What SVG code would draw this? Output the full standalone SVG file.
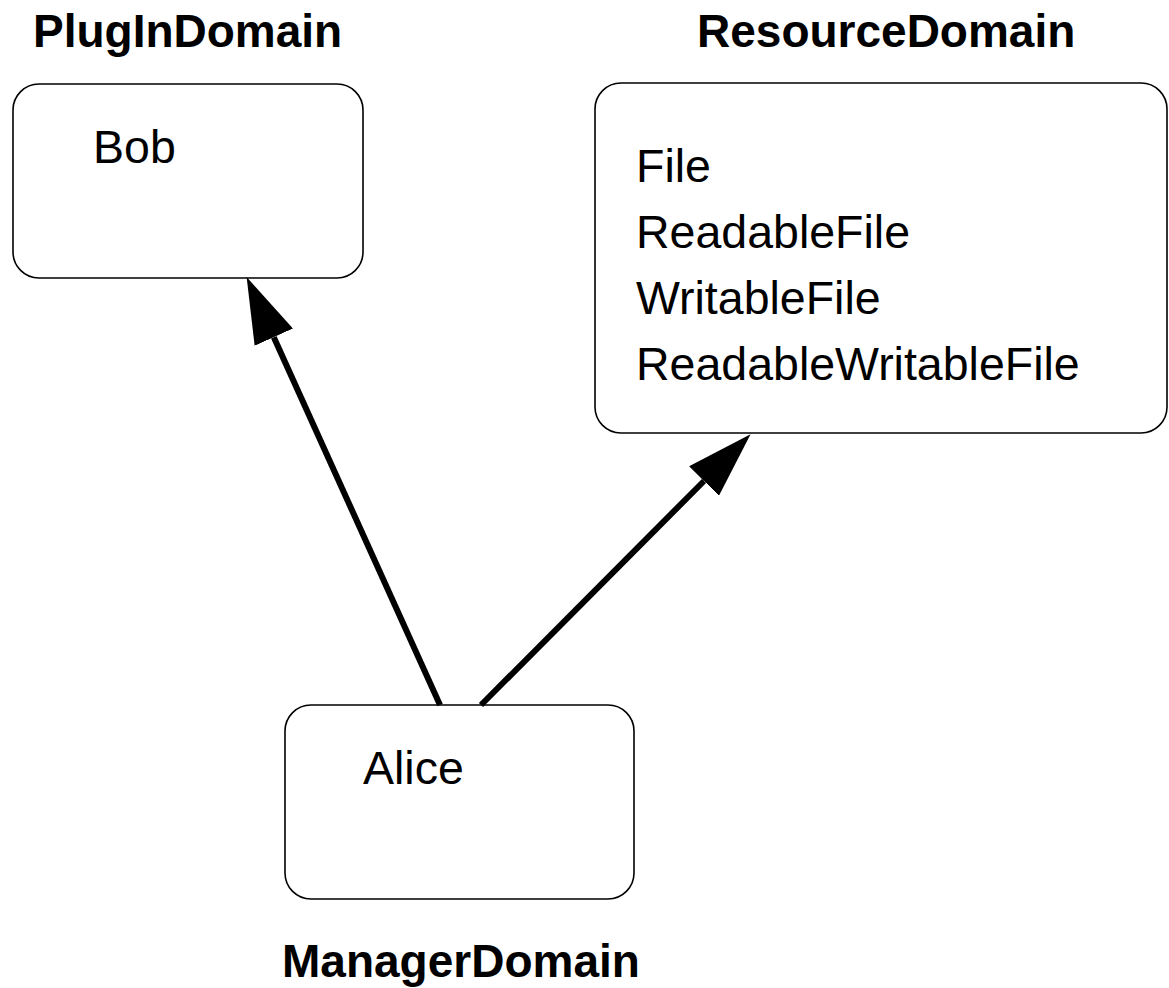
<svg xmlns="http://www.w3.org/2000/svg" width="1169" height="988" viewBox="0 0 1169 988">
  <style>
    .box { fill: #ffffff; stroke: #000000; stroke-width: 1.6; }
    .title { font-family: "Liberation Sans", Arial, sans-serif; font-weight: bold; font-size: 46px; fill: #000000; }
    .label { font-family: "Liberation Sans", Arial, sans-serif; font-size: 46.5px; fill: #000000; }
    .edge { fill: none; stroke: #000000; stroke-width: 6; stroke-linecap: butt; }
  </style>
  <defs>
    <marker id="head" markerUnits="userSpaceOnUse" markerWidth="66" markerHeight="42" viewBox="0 0 66 42" refX="0" refY="21" orient="auto">
      <path d="M0,0 L66,21 L0,42 Z" fill="#000000"/>
    </marker>
  </defs>
  <rect width="1169" height="988" fill="#ffffff"/>

  <g id="plugin-domain">
    <text class="title" x="33" y="47">PlugInDomain</text>
    <rect class="box" x="13" y="84" width="350" height="194" rx="26" ry="26"/>
    <text class="label" x="93" y="163">Bob</text>
  </g>

  <g id="resource-domain">
    <text class="title" x="697" y="47">ResourceDomain</text>
    <rect class="box" x="595" y="83" width="572" height="350" rx="26" ry="26"/>
    <text class="label" x="636" y="182">File</text>
    <text class="label" x="636" y="248">ReadableFile</text>
    <text class="label" x="636" y="314">WritableFile</text>
    <text class="label" x="636" y="380">ReadableWritableFile</text>
  </g>

  <g id="manager-domain">
    <rect class="box" x="285" y="705" width="349" height="194" rx="26" ry="26"/>
    <text class="label" x="363" y="784">Alice</text>
    <text class="title" x="282" y="977">ManagerDomain</text>
  </g>

  <g id="connectors">
    <line class="edge" x1="440" y1="705" x2="273.8" y2="337.2" marker-end="url(#head)"/>
    <line class="edge" x1="481" y1="705" x2="704" y2="481" marker-end="url(#head)"/>
  </g>
</svg>
